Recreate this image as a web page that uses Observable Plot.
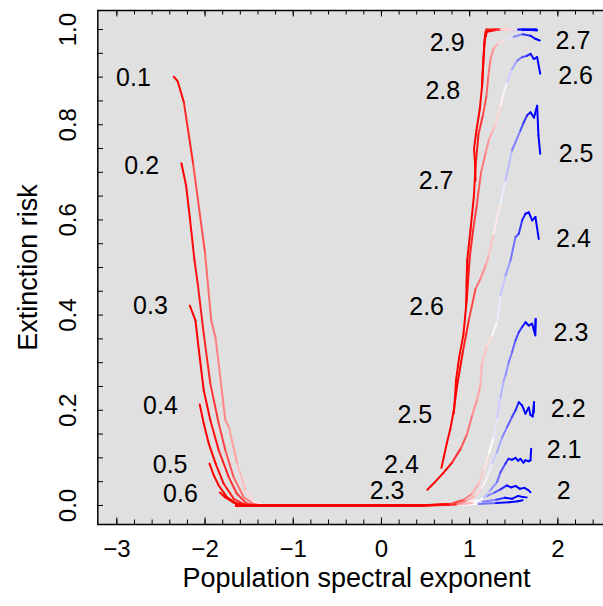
<!DOCTYPE html>
<html><head><meta charset="utf-8">
<script src="https://cdn.jsdelivr.net/npm/d3@7"></script>
<script src="https://cdn.jsdelivr.net/npm/@observablehq/plot@0.6"></script>
<style>
html,body{margin:0;padding:0;background:#fff;overflow:hidden;}
svg{display:block;}
</style></head><body><div id="chart"></div>
<script>
// ---- axes ----
const xDomain = [-3.216, 2.616];
const yDomain = [-0.04, 1.04];
const xMajor = [-3, -2, -1, 0, 1, 2];
const xMinor = [-3.0,-2.8,-2.6,-2.4,-2.2,-2.0,-1.8,-1.6,-1.4,-1.2,-1.0,-0.8,-0.6,-0.4,-0.2,0,0.2,0.4,0.6,0.8,1.0,1.2,1.4,1.6,1.8,2.0,2.2,2.4];
const yMajor = [0, 0.2, 0.4, 0.6, 0.8, 1.0];
const yMinor = [0,0.05,0.1,0.15,0.2,0.25,0.3,0.35,0.4,0.45,0.5,0.55,0.6,0.65,0.7,0.75,0.8,0.85,0.9,0.95,1.0];
const xTitle = "Population spectral exponent";
const yTitle = "Extinction risk";

// ---- curves: [population spectral exponent, extinction risk] ----
const L01 = [[-2.355,0.901],[-2.31,0.891],[-2.24,0.847],[-2.135,0.718],[-2.0,0.53],[-1.93,0.389],[-1.88,0.351],[-1.77,0.179],[-1.73,0.165],[-1.636,0.088],[-1.54,0.031],[-1.45,0.008],[-1.35,0.001]];
const L02 = [[-2.268,0.719],[-2.215,0.672],[-2.173,0.606],[-2.12,0.515],[-2.083,0.466],[-2.015,0.361],[-1.94,0.256],[-1.845,0.172],[-1.77,0.116],[-1.675,0.059],[-1.56,0.017],[-1.45,0.003],[-1.35,0]];
const L03 = [[-2.173,0.42],[-2.109,0.389],[-2.07,0.326],[-2.015,0.242],[-1.94,0.179],[-1.845,0.116],[-1.73,0.059],[-1.64,0.025],[-1.53,0.004],[-1.4,0]];
const L04 = [[-2.06,0.212],[-2.015,0.172],[-1.958,0.13],[-1.88,0.088],[-1.79,0.046],[-1.675,0.014],[-1.56,0.003],[-1.45,0]];
const L05 = [[-1.95,0.088],[-1.9,0.063],[-1.845,0.042],[-1.75,0.017],[-1.64,0.004],[-1.5,0]];
const L06 = [[-1.833,0.027],[-1.77,0.017],[-1.675,0.006],[-1.58,0.001],[-1.5,0]];

const C2c = [[-1.65,0],[0.3,0],[0.8,0.001],[1.1,0.003],[1.3,0.005],[1.45,0.007],[1.55,0.009],[1.6,0.011]];
const C2b = [[-1.65,0],[0.4,0],[0.8,0.002],[1.0,0.005],[1.15,0.008],[1.3,0.012],[1.4,0.016],[1.48,0.014],[1.55,0.02],[1.6,0.018],[1.645,0.017]];
const C2a = [[-1.65,0],[0.4,0],[0.7,0.002],[0.95,0.006],[1.1,0.012],[1.2,0.02],[1.28,0.027],[1.35,0.034],[1.42,0.042],[1.47,0.038],[1.52,0.041],[1.57,0.035],[1.62,0.037],[1.66,0.033],[1.69,0.028]];
const C21 = [[-1.65,0],[0.5,0],[0.85,0.002],[1.047,0.005],[1.16,0.017],[1.236,0.032],[1.31,0.049],[1.35,0.07],[1.406,0.088],[1.44,0.098],[1.48,0.096],[1.52,0.1],[1.55,0.094],[1.576,0.098],[1.61,0.09],[1.63,0.095],[1.67,0.093],[1.69,0.095],[1.697,0.119]];
const C22 = [[-1.65,0],[0.5,0],[0.86,0.003],[0.97,0.01],[1.066,0.021],[1.14,0.038],[1.198,0.059],[1.255,0.088],[1.31,0.112],[1.368,0.143],[1.425,0.165],[1.48,0.186],[1.52,0.2],[1.557,0.217],[1.595,0.21],[1.633,0.193],[1.67,0.206],[1.69,0.19],[1.715,0.187],[1.73,0.217],[1.727,0.195]];
const C23 = [[-1.65,0],[0.4,0],[0.78,0.003],[0.933,0.012],[1.028,0.025],[1.103,0.046],[1.16,0.074],[1.217,0.109],[1.273,0.143],[1.31,0.186],[1.35,0.228],[1.387,0.263],[1.406,0.273],[1.443,0.301],[1.48,0.322],[1.52,0.347],[1.557,0.364],[1.595,0.375],[1.633,0.385],[1.67,0.378],[1.708,0.382],[1.74,0.36],[1.748,0.392],[1.745,0.357]];
const S23 = [[0.52,0.033],[0.6,0.048],[0.7,0.068],[0.8,0.09],[0.9,0.12],[0.97,0.15],[1.03,0.19],[1.08,0.22],[1.122,0.252],[1.14,0.301],[1.198,0.336],[1.255,0.357],[1.31,0.385],[1.35,0.441],[1.406,0.483],[1.463,0.515],[1.52,0.564],[1.557,0.571],[1.595,0.599],[1.633,0.613],[1.67,0.616],[1.709,0.599],[1.746,0.606],[1.783,0.56]];
const S24 = [[0.68,0.079],[0.706,0.101],[0.74,0.13],[0.78,0.16],[0.82,0.2],[0.858,0.252],[0.92,0.32],[0.99,0.389],[1.066,0.455],[1.122,0.476],[1.18,0.504],[1.217,0.525],[1.27,0.57],[1.35,0.634],[1.406,0.683],[1.48,0.746],[1.576,0.788],[1.613,0.805],[1.652,0.82],[1.69,0.826],[1.73,0.815],[1.765,0.84],[1.78,0.777],[1.8,0.739]];
const S25 = [[0.82,0.193],[0.835,0.23],[0.845,0.263],[0.88,0.31],[0.93,0.36],[0.97,0.44],[1.0,0.52],[1.04,0.58],[1.08,0.63],[1.1,0.66],[1.13,0.7],[1.18,0.74],[1.22,0.77],[1.266,0.788],[1.29,0.8],[1.35,0.84],[1.387,0.868],[1.425,0.889],[1.48,0.917],[1.54,0.935],[1.595,0.942],[1.652,0.945],[1.69,0.949],[1.727,0.938],[1.765,0.942],[1.8,0.907]];
const S26 = [[0.96,0.419],[0.965,0.47],[0.972,0.515],[1.009,0.578],[1.047,0.648],[1.07,0.72],[1.1,0.78],[1.15,0.82],[1.19,0.86],[1.21,0.9],[1.236,0.938],[1.273,0.96],[1.33,0.972],[1.406,0.977],[1.5,0.985],[1.6,0.99],[1.69,0.987],[1.75,0.98],[1.795,0.977]];
const S27 = [[1.066,0.683],[1.06,0.72],[1.05,0.75],[1.077,0.788],[1.115,0.833],[1.14,0.88],[1.153,0.924],[1.172,0.98],[1.2,0.998],[1.3,1.0],[1.4,1.0],[1.5,0.999],[1.6,1.0],[1.7,0.999],[1.765,0.998]];
const S28 = [[1.14,0.879],[1.15,0.92],[1.165,0.97],[1.18,0.995],[1.3,0.999],[1.45,1.0],[1.6,0.999],[1.75,1.0]];
const S29 = [[1.18,0.985],[1.19,1.0],[1.35,1.0],[1.55,1.0],[1.76,1.0]];

// colour: [x, colour position] (0 red, 0.5 white, 1 blue)
const curves = [
  {pts: L01, stops: [[-2.3,0],[-2.0,0.2],[-1.7,0.3],[-1.45,0.45]]},
  {pts: L02, stops: [[-2.2,0],[-1.9,0.1],[-1.5,0.25]]},
  {pts: L03, stops: [[-2.0,0],[-1.5,0.15]]},
  {pts: L04, stops: [[-1.9,0],[-1.5,0.1]]},
  {pts: L05, stops: [[-1.8,0],[-1.5,0.05]]},
  {pts: L06, stops: [[-1.8,0]]},
  {pts: C2c, stops: [[0.5,0],[0.95,0.5],[1.4,1]]},
  {pts: C2b, stops: [[0.5,0],[1.0,0.5],[1.45,1]]},
  {pts: C2a, stops: [[0.55,0],[1.05,0.5],[1.45,1]]},
  {pts: C21, stops: [[0.6,0],[1.1,0.5],[1.5,1]]},
  {pts: C22, stops: [[0.6,0],[1.2,0.5],[1.6,1]]},
  {pts: C23, stops: [[0.7,0],[1.25,0.5],[1.65,1]]},
  {pts: S23, stops: [[0.75,0],[1.3,0.5],[1.65,1]]},
  {pts: S24, stops: [[0.9,0],[1.35,0.5],[1.7,1]]},
  {pts: S25, stops: [[0.95,0],[1.39,0.5],[1.72,1]]},
  {pts: S26, stops: [[1.05,0],[1.42,0.5],[1.7,1]]},
  {pts: S27, stops: [[1.25,0],[1.48,0.5],[1.65,1]]},
  {pts: S28, stops: [[1.25,0],[1.48,0.5],[1.65,1]]},
  {pts: S29, stops: [[1.25,0],[1.48,0.5],[1.65,1]]}
];

// ---- annotation labels ----
const labelText = ["0.1","0.2","0.3","0.4","0.5","0.6","2.9","2.8","2.7","2.6","2.5","2.4","2.3","2.7","2.6","2.5","2.4","2.3","2.2","2.1","2"];
const labelX = [-2.812,-2.718,-2.619,-2.506,-2.396,-2.279,0.745,0.695,0.62,0.512,0.378,0.227,0.064,2.171,2.2,2.207,2.177,2.148,2.117,2.071,2.067];
const labelY = [0.899,0.714,0.419,0.208,0.086,0.025,0.972,0.87,0.681,0.418,0.191,0.086,0.03,0.975,0.903,0.739,0.559,0.362,0.203,0.117,0.03];

function colourAt(stops, x) {
  if (x <= stops[0][0]) return stops[0][1];
  const last = stops[stops.length - 1];
  if (x >= last[0]) return last[1];
  for (let i = 1; i < stops.length; i++) {
    if (x <= stops[i][0]) {
      const [x0, c0] = stops[i - 1], [x1, c1] = stops[i];
      return c0 + (c1 - c0) * (x - x0) / (x1 - x0);
    }
  }
  return last[1];
}
const segments = [];
curves.forEach(({pts, stops}) => {
  for (let i = 0; i < pts.length - 1; i++) {
    const [x1, y1] = pts[i], [x2, y2] = pts[i + 1];
    segments.push({x1, y1, x2, y2, c: colourAt(stops, (x1 + x2) / 2)});
  }
});
const labels = labelText.map((t, i) => ({t, x: labelX[i], y: labelY[i]}));

const FH = 514, FW = 506;
const fmt = d => d < 0 ? "\u2212" + Math.abs(d) : String(d);

const chart = Plot.plot({
  width: 603, height: 606,
  marginLeft: 97, marginRight: 0, marginTop: 10, marginBottom: 82,
  style: {fontFamily: "'Liberation Sans', Arial, Helvetica, sans-serif", background: "white", color: "black"},
  x: {domain: xDomain, range: [97.3, 611.7], axis: null},
  y: {domain: yDomain, axis: null},
  color: {type: "linear", domain: [0, 0.5, 1], range: ["#ff0000", "#ffffff", "#0000ff"], interpolate: "rgb"},
  marks: [
    Plot.frame({fill: "#e0e0e0", stroke: "none"}),
    Plot.ruleX(xMinor, {x: d => d, insetTop: FH - 4.5, stroke: "black", strokeWidth: 1}),
    Plot.ruleX(xMajor, {x: d => d, insetTop: FH - 6.5, stroke: "black", strokeWidth: 1}),
    Plot.ruleX(xMinor, {x: d => d, insetBottom: FH - 4.5, stroke: "black", strokeWidth: 1}),
    Plot.ruleX(xMajor, {x: d => d, insetBottom: FH - 6.5, stroke: "black", strokeWidth: 1}),
    Plot.ruleY(yMinor, {y: d => d, insetRight: FW - 6, stroke: "black", strokeWidth: 1}),
    Plot.link(segments, {x1: "x1", y1: "y1", x2: "x2", y2: "y2", stroke: "c", strokeWidth: 2, strokeLinecap: "round"}),
    Plot.text(labels, {x: "x", y: "y", text: "t", fontSize: 25, textAnchor: "middle", lineAnchor: "middle", fill: "black"}),
    Plot.ruleX([xDomain[0]], {x: d => d, stroke: "black", strokeWidth: 1.5}),
    Plot.ruleY(yDomain, {y: d => d, stroke: "black", strokeWidth: 1.5}),
    Plot.text(xMajor, {x: d => d, text: fmt, frameAnchor: "bottom", lineAnchor: "top", dy: 15, fontSize: 24, fill: "black"}),
    Plot.text(yMajor, {y: d => d, text: d => d.toFixed(1), frameAnchor: "left", rotate: -90, textAnchor: "middle", lineAnchor: "bottom", dx: -22, fontSize: 24, fill: "black"}),
    Plot.text([xTitle], {text: d => d, frameAnchor: "bottom", lineAnchor: "middle", dy: 54, dx: 6, fontSize: 27, fill: "black"}),
    Plot.text([yTitle], {text: d => d, frameAnchor: "left", rotate: -90, textAnchor: "middle", lineAnchor: "middle", dx: -69, fontSize: 27, fill: "black"})
  ]
});
document.getElementById("chart").appendChild(chart);
</script>
</body></html>
